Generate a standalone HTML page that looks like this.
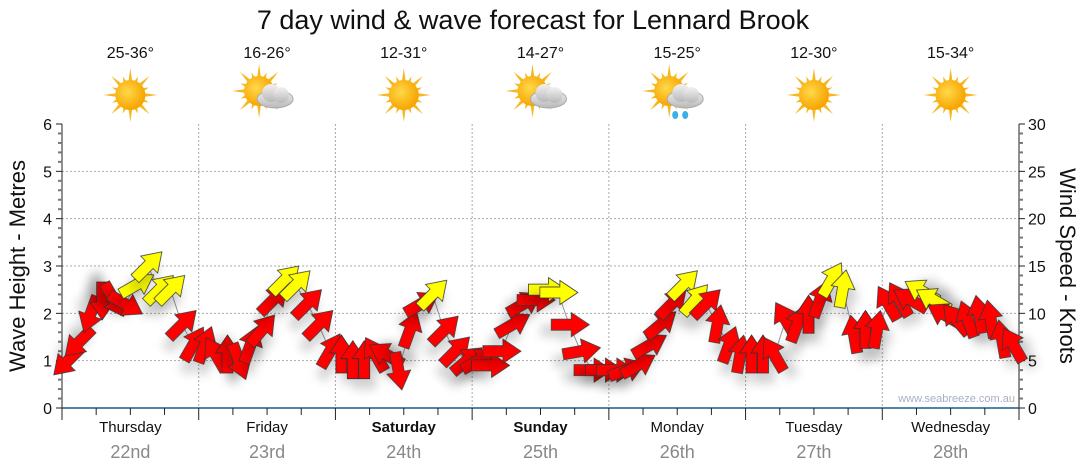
<!DOCTYPE html>
<html><head><meta charset="utf-8"><style>
body{margin:0;background:#fff;}
svg{display:block;font-family:"Liberation Sans",sans-serif;}
</style></head><body>
<svg id="chart" width="1080" height="475" viewBox="0 0 1080 475">
<defs>
<filter id="sh" x="-50%" y="-50%" width="200%" height="200%"><feDropShadow dx="6" dy="10" stdDeviation="5" flood-color="#000" flood-opacity="0.18"/></filter>
<radialGradient id="sunG" cx="40%" cy="40%" r="60%"><stop offset="0" stop-color="#ffd94a"/><stop offset="1" stop-color="#f7a400"/></radialGradient>
<linearGradient id="cloudG" x1="0" y1="0" x2="0" y2="1"><stop offset="0" stop-color="#f2f2f2"/><stop offset="1" stop-color="#b8b8b8"/></linearGradient>
</defs>
<text x="533" y="29" text-anchor="middle" font-size="27" fill="#111">7 day wind &amp; wave forecast for Lennard Brook</text>
<g id="grid"></g><g id="axes"></g><g id="topg"></g><g id="arrows"></g>
<text x="1015" y="402" text-anchor="end" font-size="11" fill="#a8b0c0">www.seabreeze.com.au</text>
<text transform="translate(25,266) rotate(-90)" text-anchor="middle" font-size="22" fill="#111">Wave Height - Metres</text>
<text transform="translate(1060,266) rotate(90)" text-anchor="middle" font-size="22" fill="#111">Wind Speed - Knots</text>
</svg>
<script>
const days=["Thursday","Friday","Saturday","Sunday","Monday","Tuesday","Wednesday"];
const dates=["22nd","23rd","24th","25th","26th","27th","28th"];
const temps=["25-36°","16-26°","12-31°","14-27°","15-25°","12-30°","15-34°"];
const icons=["sun","cloud","sun","cloud","rain","sun","sun"];
const leftTicks=[0,1,2,3,4,5,6];
const rightTicks=[0,5,10,15,20,25,30];
const speeds=[5,7,10,11.4,11.5,11,13,15,12.5,12.5,8.8,6.7,
6.6,5.6,5.6,5,6.6,8.2,11.4,13.5,13,11,8.8,6,
5.6,5,5,5.6,5.6,4,8.2,11,12,8.2,6,5,
5,4.5,6,8.8,11,11.4,12.5,12.2,8.8,6,4,4,
4,4,4.5,6.6,8.8,11,13,11.4,11,8.8,6.6,5.6,
5.6,5.6,5.6,9.3,8.8,9.8,11.4,13.5,12.5,7.7,8.2,8.2,
11,11.4,11.4,12.3,11.4,9.8,9.3,9.3,9.8,9.3,7.2,6.6];
const dirs=[225,225,200,180,150,120,60,45,45,45,45,30,
20,330,0,160,20,40,45,45,45,45,45,30,
0,0,0,330,300,170,20,60,45,45,45,50,
60,90,90,60,60,90,90,90,90,80,90,90,
90,70,60,60,50,45,45,40,45,10,20,10,
0,0,330,330,20,0,20,30,10,350,0,10,
330,330,300,300,300,300,320,340,350,350,350,330];
const yellow=[0,0,0,0,0,0,1,1,1,1,0,0,
0,0,0,0,0,0,0,1,1,0,0,0,
0,0,0,0,0,0,0,0,1,0,0,0,
0,0,0,0,0,0,1,1,0,0,0,0,
0,0,0,0,0,0,1,1,0,0,0,0,
0,0,0,0,0,0,0,1,1,0,0,0,
0,0,0,1,1,0,0,0,0,0,0,0];
const NS="http://www.w3.org/2000/svg";
const X0=62,X1=1019,Y0=408,Y1=124,DW=(X1-X0)/7;
const xT=h=>X0+h/24*DW;
const yM=m=>Y0-(m/6)*(Y0-Y1);
const yK=k=>Y0-(k/30)*(Y0-Y1);
function mk(tag,attrs,parent){const e=document.createElementNS(NS,tag);for(const k in attrs)e.setAttribute(k,attrs[k]);parent.appendChild(e);return e;}
const grid=document.getElementById('grid'),axes=document.getElementById('axes'),topG=document.getElementById('topg'),ar=document.getElementById('arrows');
for(let m=1;m<=5;m++){const l=mk('line',{x1:X0,x2:X1,y1:yM(m),y2:yM(m),stroke:'#aaa','stroke-dasharray':'2,2'},grid);

}
for(let d=1;d<7;d++){const l=mk('line',{x1:xT(d*24),x2:xT(d*24),y1:Y1,y2:Y0,stroke:'#aaa','stroke-dasharray':'2,2'},grid);

}
mk('line',{x1:X0,x2:X0,y1:Y1,y2:Y0,stroke:'#222'},axes);
mk('line',{x1:X1,x2:X1,y1:Y1,y2:Y0,stroke:'#222'},axes);
for(let m=0;m<=6.001;m+=0.2){const maj=Math.abs(m-Math.round(m))<0.01;mk('line',{x1:X0-(maj?6:4),x2:X0,y1:yM(m),y2:yM(m),stroke:maj?'#222':'#777','stroke-width':maj?1:2},axes);}
for(let k=0;k<=30.001;k+=1){const maj=Math.abs(k/5-Math.round(k/5))<0.01;mk('line',{x1:X1,x2:X1+(maj?6:4),y1:yK(k),y2:yK(k),stroke:maj?'#222':'#777','stroke-width':maj?1:2},axes);}
leftTicks.forEach(v=>{const t=mk('text',{x:X0-10,y:yM(v)+6,'text-anchor':'end','font-size':16,fill:'#111'},axes);t.textContent=v;

});
rightTicks.forEach(v=>{const t=mk('text',{x:X1+9,y:yK(v)+6,'font-size':16,fill:'#111'},axes);t.textContent=v;

});
mk('line',{x1:X0,x2:X1,y1:Y0,y2:Y0,stroke:'#1a5a8a','stroke-width':1.5},axes);
for(let h=0;h<=168;h+=6){mk('line',{x1:xT(h),x2:xT(h),y1:Y0,y2:Y0+(h%24==0?12:7),stroke:'#222'},axes);}
function sun(g,cx,cy){for(let i=0;i<16;i++){const a=i*Math.PI/8,L=i%2?20:27;mk('polygon',{points:`${cx+Math.cos(a)*L},${cy+Math.sin(a)*L} ${cx+Math.cos(a+0.18)*12},${cy+Math.sin(a+0.18)*12} ${cx+Math.cos(a-0.18)*12},${cy+Math.sin(a-0.18)*12}`,fill:'#f5b820'},g);}
mk('circle',{cx:cx,cy:cy,r:15,fill:'url(#sunG)'},g);}
function cloud(g,cx,cy){mk('ellipse',{cx:cx+8,cy:cy+4,rx:18,ry:9,fill:'url(#cloudG)',stroke:'#aaa'},g);mk('circle',{cx:cx+4,cy:cy-2,r:9,fill:'url(#cloudG)'},g);mk('circle',{cx:cx+14,cy:cy,r:8,fill:'url(#cloudG)'},g);}
days.forEach((d,i)=>{const cx=xT(i*24+12);
let t=mk('text',{x:cx,y:432,'text-anchor':'middle','font-size':15,fill:'#111','font-weight':(i==2||i==3)?'bold':'normal'},axes);t.textContent=d;


t=mk('text',{x:cx,y:458,'text-anchor':'middle','font-size':18,fill:'#888'},axes);t.textContent=dates[i];


t=mk('text',{x:cx,y:58,'text-anchor':'middle','font-size':16,fill:'#111'},topG);t.textContent=temps[i];


const g=mk('g',{},topG);


const iy=95;
if(icons[i]=='sun')sun(g,cx,iy);else{sun(g,cx-8,iy-4);cloud(g,cx,iy);if(icons[i]=='rain'){mk('ellipse',{cx:cx-2,cy:iy+20,rx:3,ry:4,fill:'#3ab0e8'},g);mk('ellipse',{cx:cx+8,cy:iy+20,rx:3,ry:4,fill:'#3ab0e8'},g);}}
});
const pts=speeds.map((s,i)=>[xT(i*2)+6,yK(s)]);
const pl=mk('polyline',{points:pts.map(p=>p.join(',')).join(' '),fill:'none',stroke:'#999','stroke-width':1},ar);


speeds.forEach((s,i)=>{const [x,y]=pts[i];
const p=mk('polygon',{points:'0,-20 12,-2 5.5,-2 5.5,18 -5.5,18 -5.5,-2 -12,-2',fill:yellow[i]?'#ffff00':'#ff0000',stroke:'#333','stroke-width':0.8,filter:'url(#sh)',transform:`translate(${x},${y}) rotate(${dirs[i]})`},ar);

});
</script>
</body></html>
